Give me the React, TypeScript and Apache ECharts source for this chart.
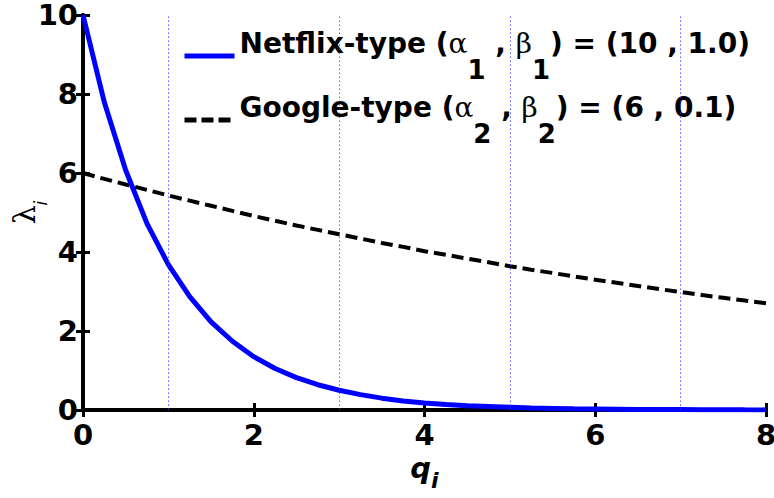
import React, { useEffect, useRef } from "react";
import * as echarts from "echarts";

// q values (x axis)
const qValues = [0, 0.25, 0.5, 0.75, 1, 1.25, 1.5, 1.75, 2, 2.25, 2.5, 2.75, 3, 3.25, 3.5, 3.75, 4, 4.25, 4.5, 4.75, 5, 5.25, 5.5, 5.75, 6, 6.25, 6.5, 6.75, 7, 7.25, 7.5, 7.75, 8];
// Netflix-type curve (alpha=10, beta=1.0)
const netflixValues = [10, 7.79, 6.07, 4.72, 3.68, 2.87, 2.23, 1.74, 1.35, 1.05, 0.82, 0.64, 0.5, 0.39, 0.3, 0.23, 0.18, 0.14, 0.11, 0.09, 0.07, 0.05, 0.04, 0.03, 0.025, 0.02, 0.015, 0.012, 0.01, 0.007, 0.006, 0.004, 0.003];
// Google-type curve (alpha=6, beta=0.1)
const googleValues = [6, 5.85, 5.71, 5.57, 5.43, 5.3, 5.17, 5.04, 4.91, 4.79, 4.67, 4.56, 4.45, 4.34, 4.23, 4.13, 4.02, 3.93, 3.83, 3.74, 3.64, 3.55, 3.47, 3.38, 3.3, 3.22, 3.14, 3.06, 2.99, 2.91, 2.84, 2.77, 2.7];
// dotted vertical guide lines
const guideX = [1, 3, 5, 7];
const seriesNames = ["Netflix", "Google"];

const FONT = "DejaVu Sans";

export default function App() {
  const ref = useRef<HTMLDivElement>(null);
  useEffect(() => {
    if (!ref.current) return;
    const chart = echarts.init(ref.current, undefined, { renderer: "svg" });
    const baseText = { fontFamily: FONT, fontWeight: "bold" as const, color: "#000" };
    const rich = {
      t: { ...baseText, fontSize: 28, lineHeight: 30, verticalAlign: "top" as const },
      g: { fontFamily: "DejaVu Serif", fontSize: 28, color: "#000", lineHeight: 30, verticalAlign: "top" as const },
      s: { ...baseText, fontSize: 26, lineHeight: 54, verticalAlign: "bottom" as const },
    };
    const axisLine = { show: true, lineStyle: { color: "#000", width: 4 } };
    const axisTick = { show: true, inside: true, length: 7, lineStyle: { color: "#000", width: 3 } };
    chart.setOption({
      animation: false,
      backgroundColor: "#fff",
      grid: { left: 83, top: 15, right: 8, bottom: 88, containLabel: false, outerBoundsMode: "none" },
      legend: {
        orient: "vertical",
        left: 182,
        top: 29,
        padding: 0,
        itemWidth: 50,
        itemHeight: 14,
        itemGap: 10,
        data: [
          { name: seriesNames[0], itemStyle: { opacity: 0 }, lineStyle: { color: "#0000ff", width: 5 } },
          { name: seriesNames[1], itemStyle: { opacity: 0 }, lineStyle: { color: "#000", width: 5, type: [12, 5] } },
        ],
        textStyle: { rich },
        formatter: (name: string) =>
          name === "Netflix"
            ? "{t|Netflix-type (}{g|α}{s|1}{t| , }{g|β}{s|1}{t|) = (10 , 1.0)}"
            : "{t|Google-type (}{g|α}{s|2}{t| , }{g|β}{s|2}{t|) = (6 , 0.1)}",
      },
      xAxis: [
        {
          type: "value",
          min: 0,
          max: 8,
          interval: 2,
          axisLine,
          axisTick,
          splitLine: { show: false },
          axisLabel: { fontFamily: FONT, fontWeight: "bold", fontSize: 29, color: "#000", margin: 10 },
          name: "{q|q}{s|i}",
          nameLocation: "middle",
          nameGap: 42,
          nameTextStyle: {
            rich: {
              q: { fontFamily: FONT, fontWeight: "bold", fontStyle: "italic", fontSize: 29, color: "#000", lineHeight: 30, verticalAlign: "top" },
              s: { fontFamily: FONT, fontWeight: "bold", fontStyle: "italic", fontSize: 22, color: "#000", lineHeight: 38, verticalAlign: "bottom" },
            },
          },
        },
        {
          type: "value",
          position: "top",
          min: 0,
          max: 8,
          interval: 2,
          axisLine,
          axisTick,
          axisLabel: { show: false },
          splitLine: { show: false },
        },
      ],
      yAxis: [
        {
          type: "value",
          min: 0,
          max: 10,
          interval: 2,
          axisLine,
          axisTick,
          splitLine: { show: false },
          axisLabel: { fontFamily: FONT, fontWeight: "bold", fontSize: 29, color: "#000", margin: 5 },
          name: "{l|λ}{s|i}",
          nameLocation: "middle",
          nameRotate: 90,
          nameGap: 34,
          nameMoveOverlap: false,
          nameTextStyle: {
            rich: {
              l: { fontFamily: "DejaVu Serif", fontSize: 30, color: "#000", lineHeight: 30, verticalAlign: "top" },
              s: { fontFamily: FONT, fontStyle: "italic", fontSize: 17, color: "#000", lineHeight: 40, verticalAlign: "bottom" },
            },
          },
        },
        {
          type: "value",
          position: "right",
          min: 0,
          max: 10,
          interval: 2,
          axisLine,
          axisTick,
          axisLabel: { show: false },
          splitLine: { show: false },
        },
      ],
      series: [
        {
          name: "guides",
          type: "line",
          data: [],
          silent: true,
          markLine: {
            silent: true,
            symbol: "none",
            label: { show: false },
            lineStyle: { color: "#3333ff", width: 1, type: [1.5, 2.5], opacity: 0.8 },
            data: guideX.map((x) => ({ xAxis: x })),
          },
        },
        {
          name: "Netflix",
          type: "line",
          symbol: "none",
          data: qValues.map((q, i) => [q, netflixValues[i]]),
          lineStyle: { color: "#0000ff", width: 5 },
          itemStyle: { color: "#0000ff" },
          z: 3,
        },
        {
          name: "Google",
          type: "line",
          symbol: "none",
          data: qValues.map((q, i) => [q, googleValues[i]]),
          lineStyle: { color: "#000", width: 4, type: [12, 6] },
          itemStyle: { color: "#000" },
          z: 2,
        },
      ],
    });
    return () => chart.dispose();
  }, []);
  return <div ref={ref} style={{ width: 774, height: 498, position: "absolute", left: 0, top: 0 }} />;
}
